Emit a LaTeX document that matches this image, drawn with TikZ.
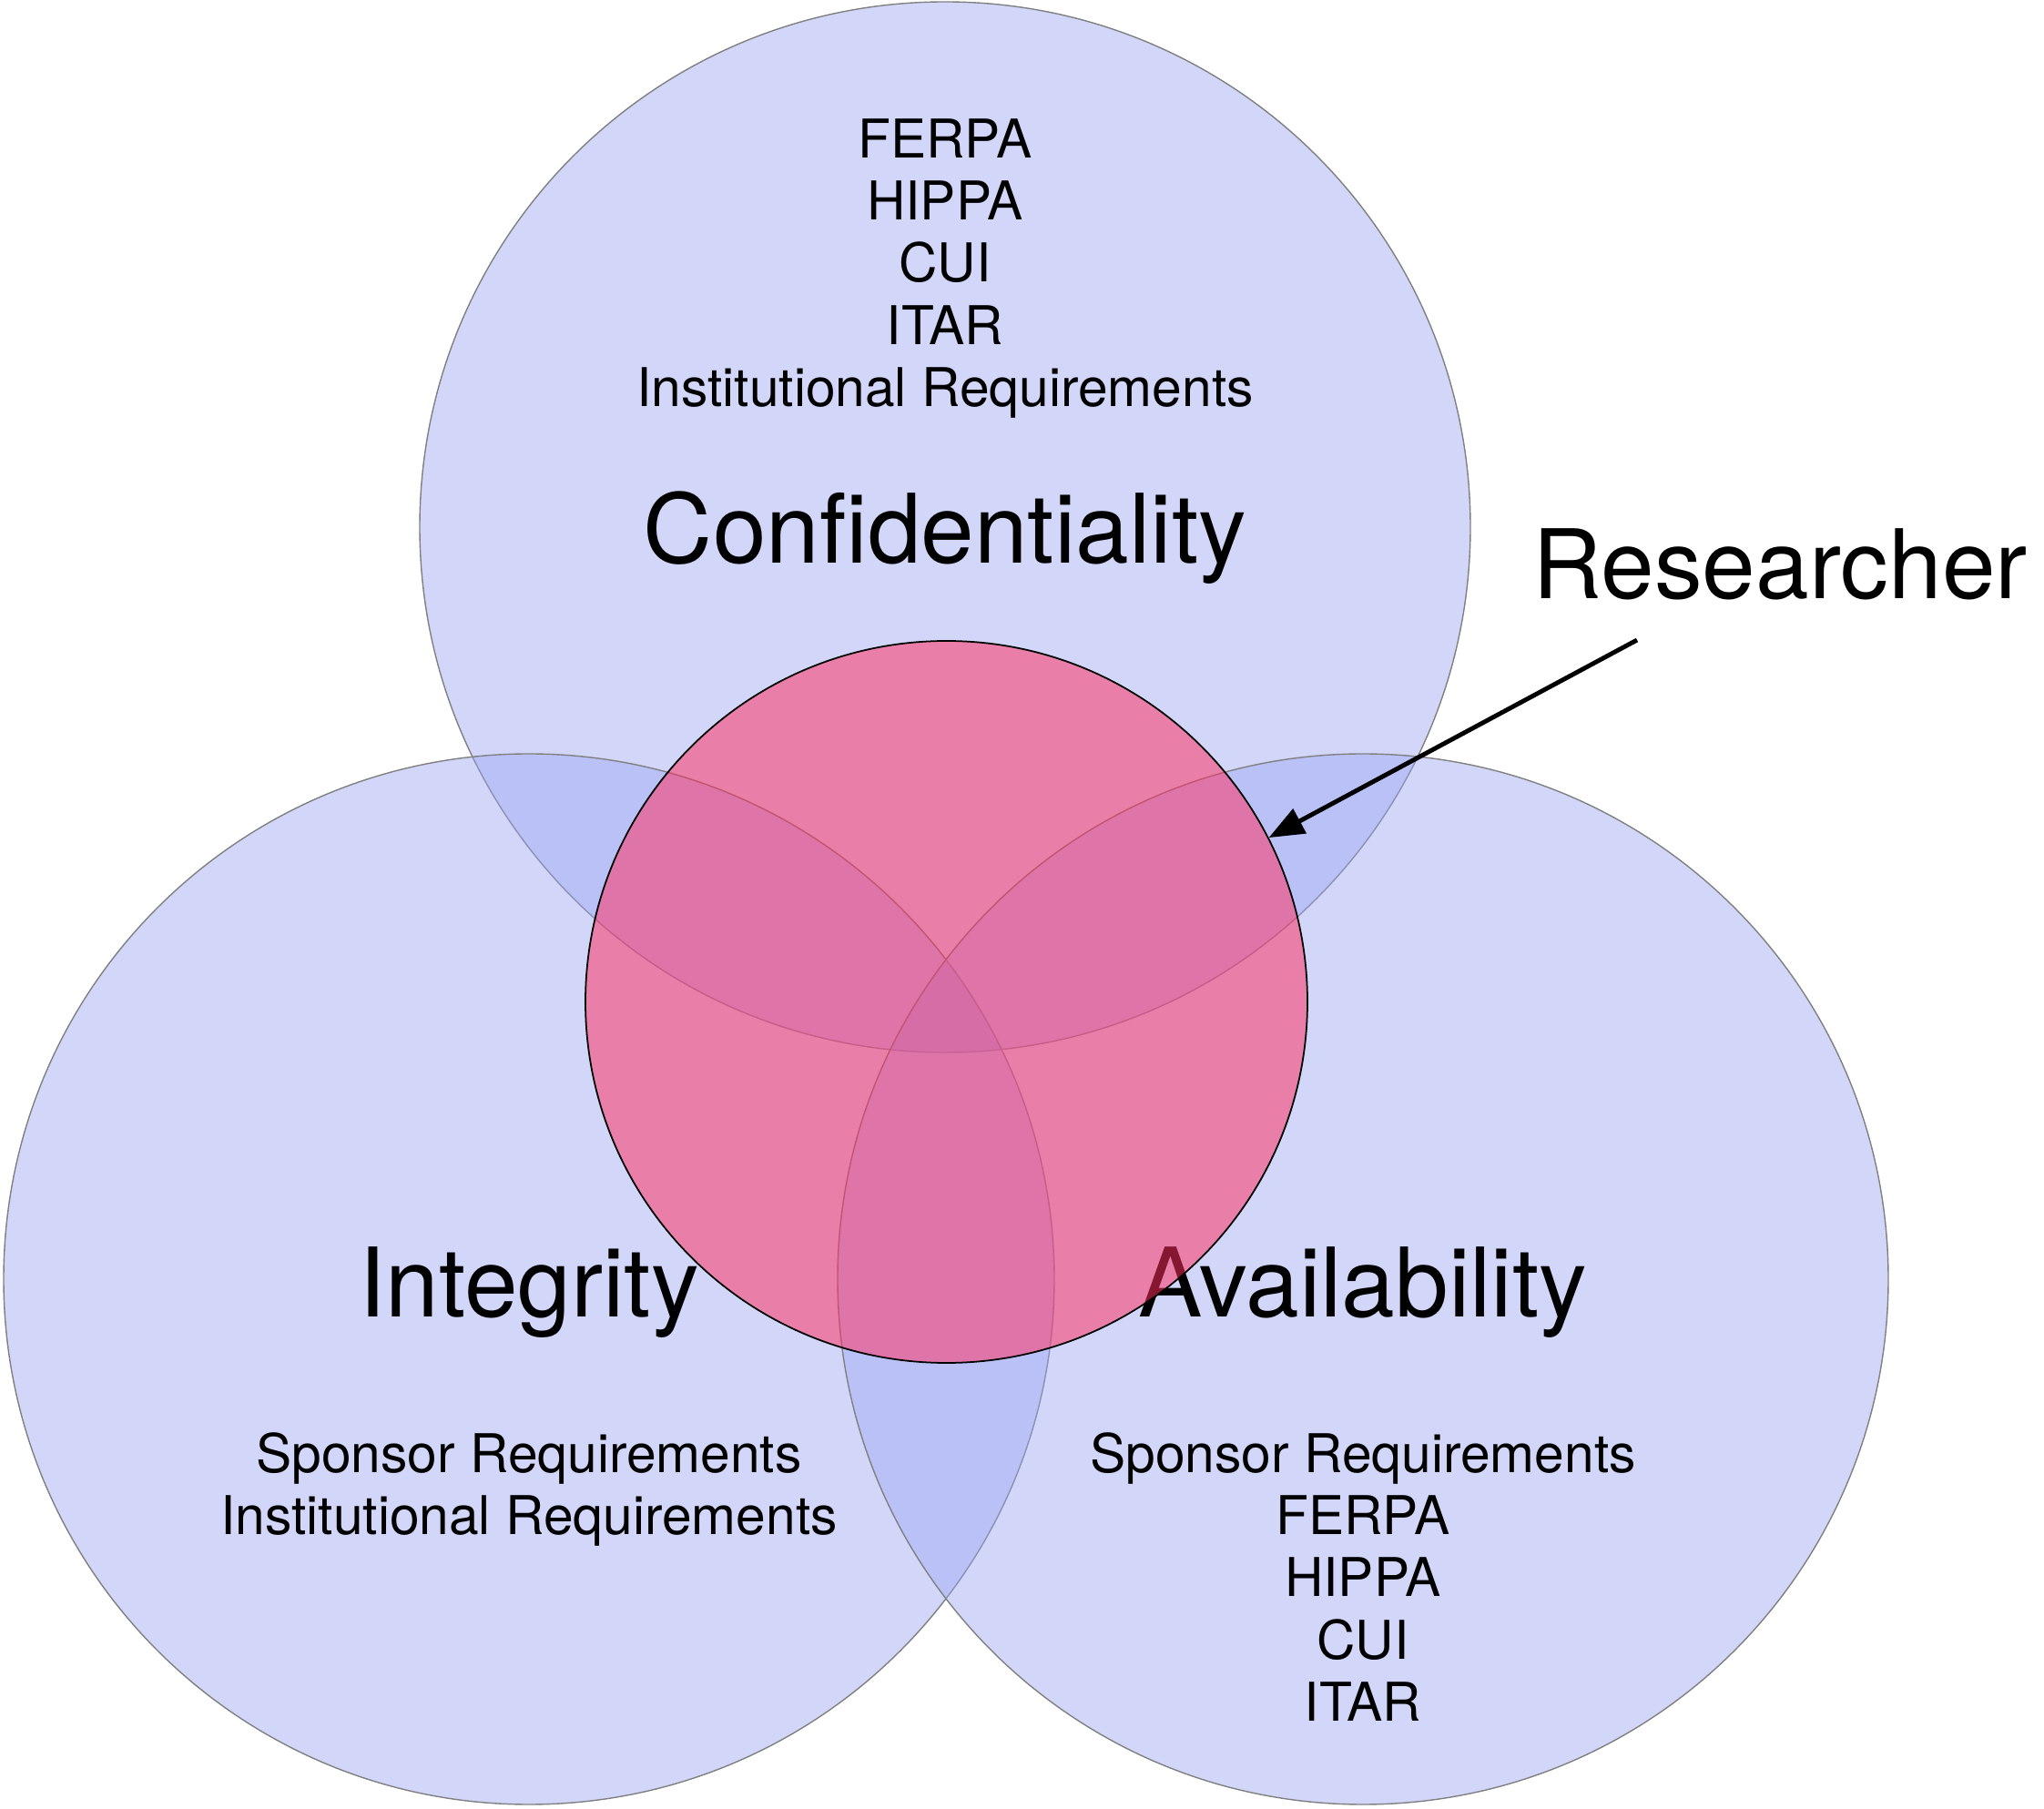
\documentclass[tikz,border=0pt]{standalone}
\usepackage{fontspec}
\setmainfont{TeX Gyre Heros}
\usepackage{xcolor}
\usepackage{tikz}
\usetikzlibrary{shapes,positioning,arrows.meta}
\definecolor{setblue}{RGB}{155,166,244}
\definecolor{setred}{RGB}{255,45,95}
\tikzset{cir/.style={circle,draw=gray,line width=0.4pt,fill=setblue,fill opacity=0.45,minimum size=11.54cm,inner sep=0}}
\tikzset{rcir/.style={circle,draw=black,line width=0.5pt,fill=setred,fill opacity=0.52,minimum size=7.93cm,inner sep=0}}
\tikzset{lab/.style={inner sep=0,anchor=base,font=\fontsize{30}{36}\selectfont}}
\tikzset{lst/.style={inner sep=0,anchor=north,align=center,font=\fontsize{16.7}{19.4}\selectfont}}

\begin{document}
\begin{tikzpicture}[>={Triangle[length=11pt,width=8.5pt]}]
        \useasboundingbox (0,0) rectangle (22.45,-19.87);

        \node[cir] (conf) at (10.38,-5.79) {};
        \node[cir] (integ) at (5.81,-14.05) {};
        \node[cir] (avail) at (14.97,-14.05) {};

        \node[lst] (conflist) at (10.38,-1.30) {FERPA\\HIPPA\\CUI\\ITAR\\Institutional Requirements};
        \node[lab] (conftext) at (10.38,-6.19) {Confidentiality};
        \node[lab] (integtext) at (5.81,-14.47) {Integrity};
        \node[lst] (integlist) at (5.81,-15.73) {Sponsor Requirements\\Institutional Requirements};
        \node[lab] (availtext) at (14.97,-14.47) {Availability};
        \node[lst] (availlist) at (14.97,-15.73) {Sponsor Requirements\\FERPA\\HIPPA\\CUI\\ITAR};

        \node[rcir] (res) at (10.395,-11.005) {};

        \node[lab] (researcher) at (19.55,-6.58) {Researcher};
        \coordinate (tail) at (17.98,-7.03);
        \draw [->,line width=1.4pt] (tail) to (res.27.7);
    \end{tikzpicture}
\end{document}
